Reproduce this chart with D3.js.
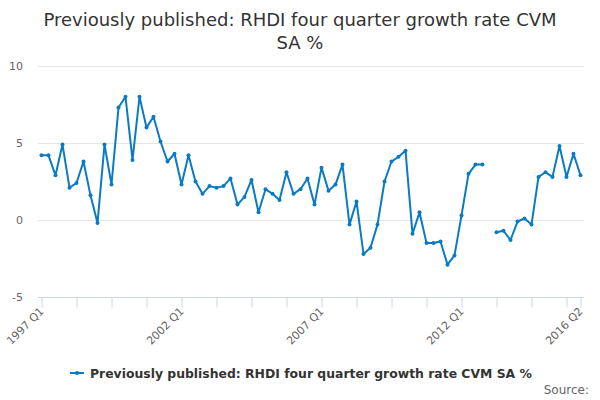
<!DOCTYPE html>
<html>
<head>
<meta charset="utf-8">
<script src="https://cdn.jsdelivr.net/npm/d3@7/dist/d3.min.js"></script>
<style>
  body { margin: 0; background: #fff; }
  svg { font-family: "DejaVu Sans", sans-serif; }
</style>
</head>
<body>
<svg id="chart" width="600" height="400"></svg>
<script>
// quarters 1997 Q1 .. 2016 Q2
var startYear = 1997;
var quarterCount = 78;

var growthValues = [
	4.2, 4.2, 2.9, 4.9, 2.1, 2.4, 3.8, 1.6, -0.2, 4.9,
	2.3, 7.3, 8.0, 3.9, 8.0, 6.0, 6.7, 5.1, 3.8, 4.3,
	2.3, 4.2, 2.5, 1.7, 2.2, 2.1, 2.2, 2.7, 1.0, 1.5,
	2.6, 0.5, 2.0, 1.7, 1.3, 3.1, 1.7, 2.0, 2.7, 1.0,
	3.4, 1.9, 2.3, 3.6, -0.3, 1.2, -2.2, -1.8, -0.3, 2.5,
	3.8, 4.1, 4.5, -0.9, 0.5, -1.5, -1.5, -1.4, -2.9, -2.3,
	0.3, 3.0, 3.6, 3.6, null, -0.8, -0.7, -1.3, -0.1, 0.1,
	-0.3, 2.8, 3.1, 2.8, 4.8, 2.8, 4.3, 2.9
];

var yTicks = [-5, 0, 5, 10];
var xLabelIndexes = [0, 20, 40, 60, 77];
var seriesName = "Previously published: RHDI four quarter growth rate CVM SA %";
var titleLines = ["Previously published: RHDI four quarter growth rate CVM", "SA %"];

var LINE_COLOR = "#0a7bc2";
var GRID_COLOR = "#e6e6e6";
var AXIS_COLOR = "#ccd6eb";

function quarterLabel(i) {
	return (startYear + Math.floor(i / 4)) + " Q" + (i % 4 + 1);
}

var svg = d3.select("#chart");

var x = d3.scaleLinear().domain([0, quarterCount - 1]).range([41.5, 580.5]);
var y = d3.scaleLinear().domain([-5, 10]).range([297, 66]);

// title
svg.selectAll("text.title")
	.data(titleLines)
	.enter().append("text")
	.attr("class", "title")
	.attr("x", 300)
	.attr("y", function(d, i) { return 26 + i * 23; })
	.attr("text-anchor", "middle")
	.attr("font-size", 18)
	.attr("fill", "#333")
	.text(function(d) { return d; });

// gridlines
svg.selectAll("line.grid")
	.data(yTicks.filter(function(t) { return t !== -5; }))
	.enter().append("line")
	.attr("class", "grid")
	.attr("x1", 38).attr("x2", 584)
	.attr("y1", function(d) { return Math.round(y(d)) + 0.5; })
	.attr("y2", function(d) { return Math.round(y(d)) + 0.5; })
	.attr("stroke", GRID_COLOR)
	.attr("stroke-width", 1);

// y labels
svg.selectAll("text.ylab")
	.data(yTicks)
	.enter().append("text")
	.attr("class", "ylab")
	.attr("x", 23)
	.attr("y", function(d) { return y(d) + 4; })
	.attr("text-anchor", "end")
	.attr("font-size", 11)
	.attr("fill", "#666")
	.text(function(d) { return d; });

// x axis
var tickIdx = d3.range(0, quarterCount, 5).concat([quarterCount - 1]);
var xAxis = d3.axisBottom(x)
	.tickValues(tickIdx)
	.tickSize(10)
	.tickFormat("");
var xg = svg.append("g")
	.attr("transform", "translate(0," + 297.5 + ")")
	.call(xAxis);
xg.select(".domain").attr("stroke", AXIS_COLOR).attr("d", "M38,0H584");
xg.selectAll(".tick line").attr("stroke", AXIS_COLOR);

svg.selectAll("text.xlab")
	.data(xLabelIndexes)
	.enter().append("text")
	.attr("class", "xlab")
	.attr("transform", function(d) {
		return "translate(" + (x(d) + 3) + ",312) rotate(-45)";
	})
	.attr("text-anchor", "end")
	.attr("font-size", 11)
	.attr("fill", "#666")
	.text(function(d) { return quarterLabel(d); });

// series line
var line = d3.line()
	.defined(function(d) { return d !== null; })
	.x(function(d, i) { return x(i); })
	.y(function(d) { return y(d); });

svg.append("path")
	.datum(growthValues)
	.attr("d", line)
	.attr("fill", "none")
	.attr("stroke", LINE_COLOR)
	.attr("stroke-width", 2)
	.attr("stroke-linejoin", "round");

svg.selectAll("circle.pt")
	.data(growthValues.map(function(v, i) { return { v: v, i: i }; })
		.filter(function(d) { return d.v !== null; }))
	.enter().append("circle")
	.attr("class", "pt")
	.attr("cx", function(d) { return x(d.i); })
	.attr("cy", function(d) { return y(d.v); })
	.attr("r", 2)
	.attr("fill", LINE_COLOR);

// legend
var legend = svg.append("g").attr("transform", "translate(70,373)");
legend.append("line")
	.attr("x1", 0).attr("x2", 14)
	.attr("y1", 0).attr("y2", 0)
	.attr("stroke", LINE_COLOR)
	.attr("stroke-width", 2);
legend.append("circle")
	.attr("cx", 7).attr("cy", 0).attr("r", 2)
	.attr("fill", LINE_COLOR);
legend.append("text")
	.attr("x", 20)
	.attr("y", 4.5)
	.attr("font-size", 12.4)
	.attr("font-weight", "bold")
	.attr("fill", "#333")
	.text(seriesName);

// credits
svg.append("text")
	.attr("x", 589)
	.attr("y", 394)
	.attr("text-anchor", "end")
	.attr("font-size", 12)
	.attr("fill", "#666")
	.text("Source:");
</script>
</body>
</html>
